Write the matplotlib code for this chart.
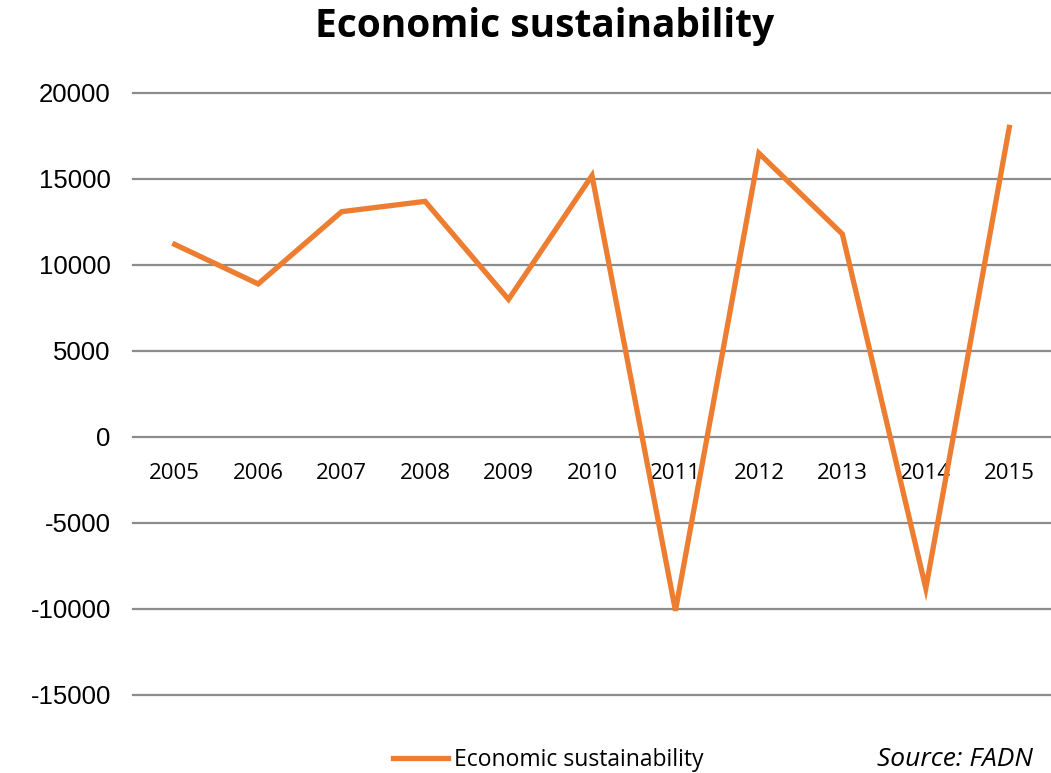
import matplotlib.pyplot as plt

# Data
years = [2005, 2006, 2007, 2008, 2009, 2010, 2011, 2012, 2013, 2014, 2015]
values = [11200, 8900, 13100, 13700, 8000, 15200, -10100, 16500, 11800, -8800, 18000]
y_ticks = [-15000, -10000, -5000, 0, 5000, 10000, 15000, 20000]

orange = "#ED7D31"

fig = plt.figure(figsize=(10.51, 7.73), dpi=100)
ax = fig.add_axes([133 / 1051, 1 - 695 / 773, 1 - 133 / 1051, (695 - 93) / 773])

ax.plot(years, values, color=orange, linewidth=3.8, solid_joinstyle="miter",
        label="Economic sustainability", zorder=3, clip_on=False)

ax.set_xlim(years[0] - 0.5, years[-1] + 0.5)
ax.set_ylim(-15000, 20000)

# x labels sit just under the zero line
ax.spines["bottom"].set_position(("data", 0))
for s in ax.spines.values():
    s.set_visible(False)

ax.set_yticks(y_ticks)
ax.set_yticklabels([str(v) for v in y_ticks], fontfamily="Liberation Sans", fontsize=18.5)
ax.set_xticks(years)
ax.set_xticklabels([str(y) for y in years], fontfamily="Open Sans", fontsize=16)
ax.tick_params(axis="both", length=0)
ax.tick_params(axis="x", pad=19)
ax.tick_params(axis="y", pad=16)
ax.yaxis.grid(True, color="#8c8c8c", linewidth=1.6)
for gl in ax.get_ygridlines():
    gl.set_clip_on(False)
ax.set_axisbelow(True)

fig.text(545 / 1051, 1 - 26 / 773, "Economic sustainability", ha="center", va="center",
         fontfamily="Open Sans", fontweight="bold", fontsize=28)

# legend at bottom
fig.legend(loc="center", bbox_to_anchor=(548 / 1051, 1 - 760 / 773), frameon=False,
           prop={"family": "Open Sans", "size": 16.5}, handlelength=2.4, handletextpad=0.25)

fig.text(1033 / 1051, 1 - 760 / 773, "Source: FADN", ha="right", va="center",
         fontfamily="Open Sans", fontstyle="italic", fontsize=19)

fig.savefig("out.png", dpi=100)
